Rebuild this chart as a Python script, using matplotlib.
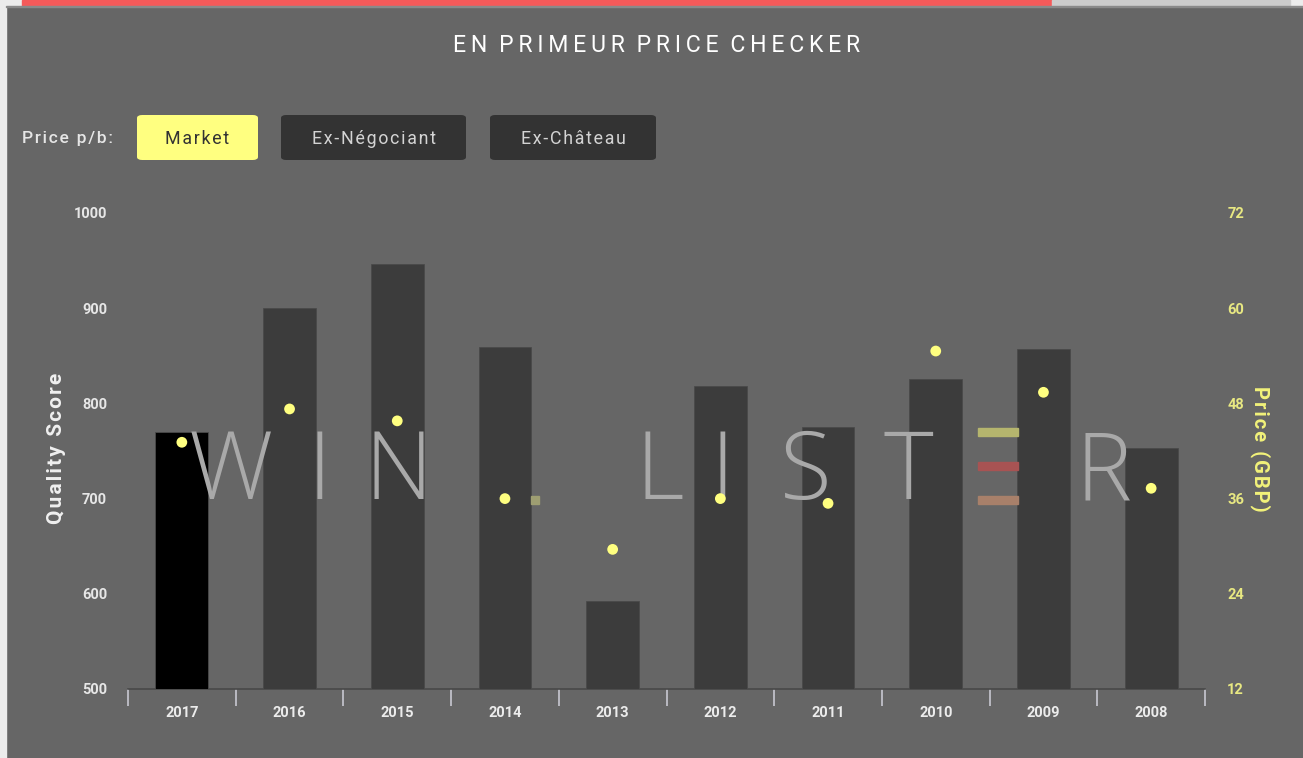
import matplotlib
matplotlib.use("Agg")
import matplotlib.pyplot as plt
from matplotlib.patches import FancyBboxPatch, Rectangle
import numpy as np

years = ["2017", "2016", "2015", "2014", "2013", "2012", "2011", "2010", "2009", "2008"]
quality = [770, 900, 946, 859, 592, 818, 775, 826, 857, 753]
price = [43.1, 47.3, 45.8, 36.0, 29.6, 36.0, 35.4, 54.6, 49.4, 37.3]
left_ticks = [500, 600, 700, 800, 900, 1000]
right_ticks = [12, 24, 36, 48, 60, 72]

W, H = 1303, 758
fig = plt.figure(figsize=(W / 100, H / 100), dpi=100)
fig.patch.set_facecolor("#666666")

def fx(px):
    return px / W

def fy(py):
    return 1 - py / H

def spaced(s, sep="\u200a"):
    return sep.join(s)

# frame decorations
fig.add_artist(Rectangle((0, 0), fx(6), 1, transform=fig.transFigure, color="#ececec", zorder=0))
fig.add_artist(Rectangle((0, fy(6)), 1, 6 / H, transform=fig.transFigure, color="#ececec", zorder=0))
fig.add_artist(Rectangle((fx(22), fy(6)), fx(1052 - 22), 6 / H, transform=fig.transFigure, color="#f55a5a", zorder=1))
fig.add_artist(Rectangle((fx(1052), fy(6)), fx(1290 - 1052), 6 / H, transform=fig.transFigure, color="#cccccc", zorder=1))
fig.add_artist(Rectangle((fx(6), fy(7)), 1, 1.2 / H, transform=fig.transFigure, color="#8a8a8a", zorder=1))

FONT = ["Roboto", "DejaVu Sans"]

# title
title = "EN PRIMEUR PRICE CHECKER"
fig.text(fx(657), fy(45), "\u2009".join(title).replace("\u2009 \u2009", "\u2002"),
         ha="center", va="center", color="white", fontsize=16.7, family=FONT)

# buttons
fig.text(fx(22), fy(138), spaced("Price p/b:"), ha="left", va="center", color="#e6e6e6",
         fontsize=12.5, family=FONT, fontweight="medium")
buttons = [("Market", 137, 258, "#ffff80", "#333333"),
           ("Ex-Négociant", 281, 466, "#333333", "#d4d4d4"),
           ("Ex-Château", 490, 656, "#333333", "#d4d4d4")]
for label, x0, x1, fc, tc in buttons:
    p = FancyBboxPatch((fx(x0), fy(160)), fx(x1 - x0), (160 - 115) / H,
                       boxstyle="round,pad=0,rounding_size=0.004", transform=fig.transFigure,
                       facecolor=fc, edgecolor="none")
    fig.add_artist(p)
    fig.text(fx((x0 + x1) / 2), fy(139), spaced(label), ha="center", va="center", color=tc,
             fontsize=12.8, family=FONT)

ax = fig.add_axes([fx(128), fy(689), fx(1205 - 128), (689 - 213) / H])
ax.set_facecolor("none")
ax.set_xlim(-0.5, len(years) - 0.5)
ax.set_ylim(500, 1000)
x = np.arange(len(years))
colors = ["#000000"] + ["#3c3c3c"] * (len(years) - 1)
ax.bar(x, [q - 500 for q in quality], bottom=500, width=0.49, color=colors,
       edgecolor="#4a4a4a", linewidth=0.6, zorder=3)

# watermark (behind bars)
letters = [("W", 231), ("I", 319), ("N", 398), ("L", 660), ("I", 722), ("S", 806), ("T", 908), ("R", 1104)]
for ch, px in letters:
    fig.text(fx(px), fy(475), ch, ha="center", va="center", color="#a9a9a9", fontsize=68,
             family=["Open Sans", "Roboto", "DejaVu Sans"], fontweight="light", zorder=0.5)
for yy, c in [(432, "#b5b56e"), (466, "#a85353"), (500, "#a8806a")]:
    fig.add_artist(Rectangle((fx(978), fy(yy + 4)), fx(40), 8 / H, transform=fig.transFigure,
                             color=c, zorder=0.5))
fig.add_artist(Rectangle((fx(531), fy(504)), fx(8), 8 / H, transform=fig.transFigure,
                         color="#9e9e72", zorder=0.5))

for s in ["top", "right", "left"]:
    ax.spines[s].set_visible(False)
ax.spines["bottom"].set_color("#484848")
ax.spines["bottom"].set_linewidth(1.2)

ax.set_xticks(x)
ax.set_xticklabels(years)
ax.tick_params(axis="x", which="major", length=0, pad=12, labelsize=10.5, labelcolor="#ececec")
ax.set_xticks(np.arange(-0.5, len(years)), minor=True)
ax.tick_params(axis="x", which="minor", length=12, width=1.2, color="#c8c8d2", direction="out")
for lbl in ax.get_xticklabels():
    lbl.set_family(FONT)
    lbl.set_fontweight("bold")

ax.set_yticks(left_ticks)
ax.tick_params(axis="y", length=0, pad=15, labelsize=10.5, labelcolor="#e6e6e6")
for lbl in ax.get_yticklabels():
    lbl.set_family(FONT)
    lbl.set_fontweight("bold")
ax.set_ylabel(spaced("Quality Score"), color="#f0f0f0", fontsize=15, family=FONT, fontweight="bold")
ax.yaxis.label.set_va("center")
ax.yaxis.set_label_coords((57 - 128) / 1077, 0.505)

ax2 = ax.twinx()
ax2.set_ylim(12, 72)
ax2.set_yticks(right_ticks)
ax2.tick_params(axis="y", length=0, pad=16, labelsize=10.5, labelcolor="#e8e882")
for lbl in ax2.get_yticklabels():
    lbl.set_family(FONT)
    lbl.set_fontweight("bold")
for s in ax2.spines.values():
    s.set_visible(False)
ax2.scatter(x, price, s=60, color="#ffff80", zorder=5, edgecolors="none")
ax2.set_ylabel(spaced("Price (GBP)"), color="#f2f27a", fontsize=14.5, family=FONT,
               fontweight="bold", rotation=-90)
ax2.yaxis.label.set_va("center")
ax2.yaxis.set_label_coords((1260 - 128) / 1077, 0.505)
ax2.set_zorder(ax.get_zorder() + 1)

fig.savefig("out.png", dpi=100, facecolor=fig.get_facecolor())
